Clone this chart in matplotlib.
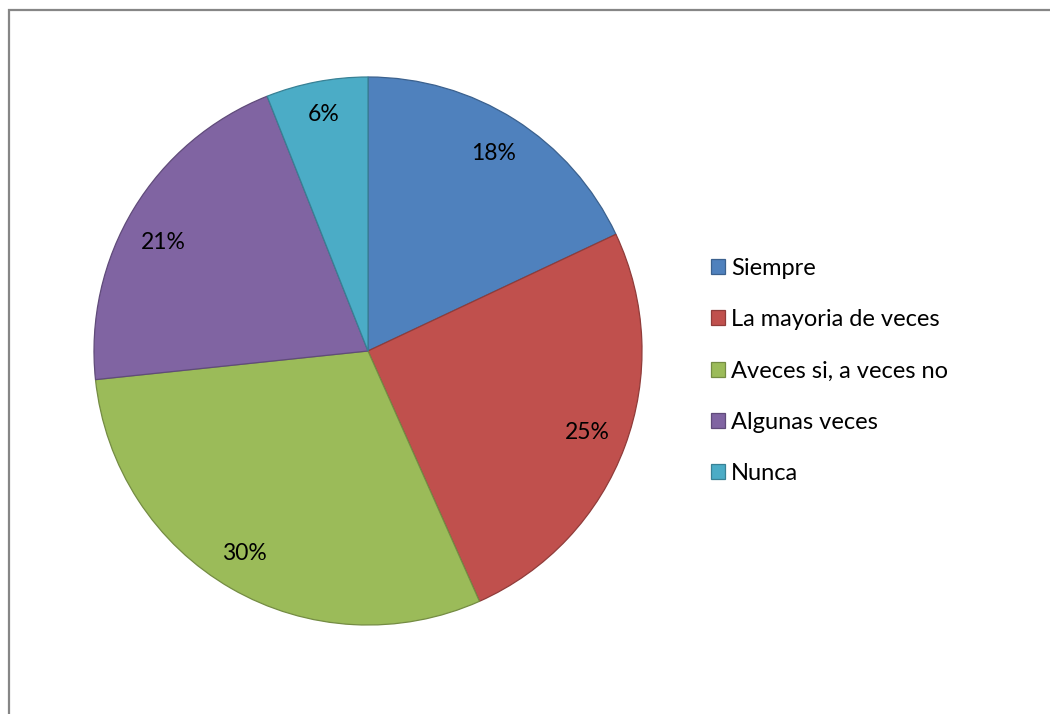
import matplotlib.pyplot as plt
from matplotlib.patches import Rectangle
from matplotlib.colors import to_rgb

categories = ["Siempre", "La mayoria de veces", "Aveces si, a veces no", "Algunas veces", "Nunca"]
counts = [27, 38, 45, 31, 9]
colors = ["#4F81BD", "#C0504D", "#9BBB59", "#8064A2", "#4BACC6"]

FONT = "Lato"


def darker(c, f=0.75):
    r, g, b = to_rgb(c)
    return (r * f, g * f, b * f)


W, H = 1050, 714
fig = plt.figure(figsize=(W / 100, H / 100), dpi=100)

# outer chart frame (only left and top are visible in the picture)
fig.patches.append(Rectangle((8.5 / W, -0.1), 1.2, (H - 10) / H + 0.1, transform=fig.transFigure,
                             facecolor="none", edgecolor="#868686", linewidth=1.6))

# pie centered at (368, 351) px with radius 274 px
cx, cy, r = 368, 351, 274
ax = fig.add_axes([(cx - r) / W, (H - cy - r) / H, 2 * r / W, 2 * r / H])
wedges, texts, autotexts = ax.pie(
    counts, colors=colors, startangle=90, counterclock=False,
    autopct="%1.0f%%", pctdistance=0.855, radius=1.0,
    wedgeprops=dict(linewidth=0.9),
    textprops=dict(fontsize=16.5, family=FONT, color="#000000"))
for w, c in zip(wedges, colors):
    w.set_edgecolor(darker(c))

# nudge labels (screen pixels, +y is down) to where Excel put them
nudges = {2: (-6, 0), 3: (-4, 13), 4: (0, -6)}
for i, (dx, dy) in nudges.items():
    x, y = autotexts[i].get_position()
    autotexts[i].set_position((x + dx / r, y - dy / r))

ax.set_xlim(-1, 1)
ax.set_ylim(-1, 1)
ax.set_aspect("equal")
ax.axis("off")

fig.legend(wedges, categories, loc="center left", bbox_to_anchor=(711 / W, 1 - 371 / H),
           frameon=False, prop=dict(family=FONT, size=17),
           handlelength=0.6, handleheight=0.6, handletextpad=0.25,
           labelspacing=1.28, borderaxespad=0, borderpad=0)

fig.savefig("out.png", dpi=100)
